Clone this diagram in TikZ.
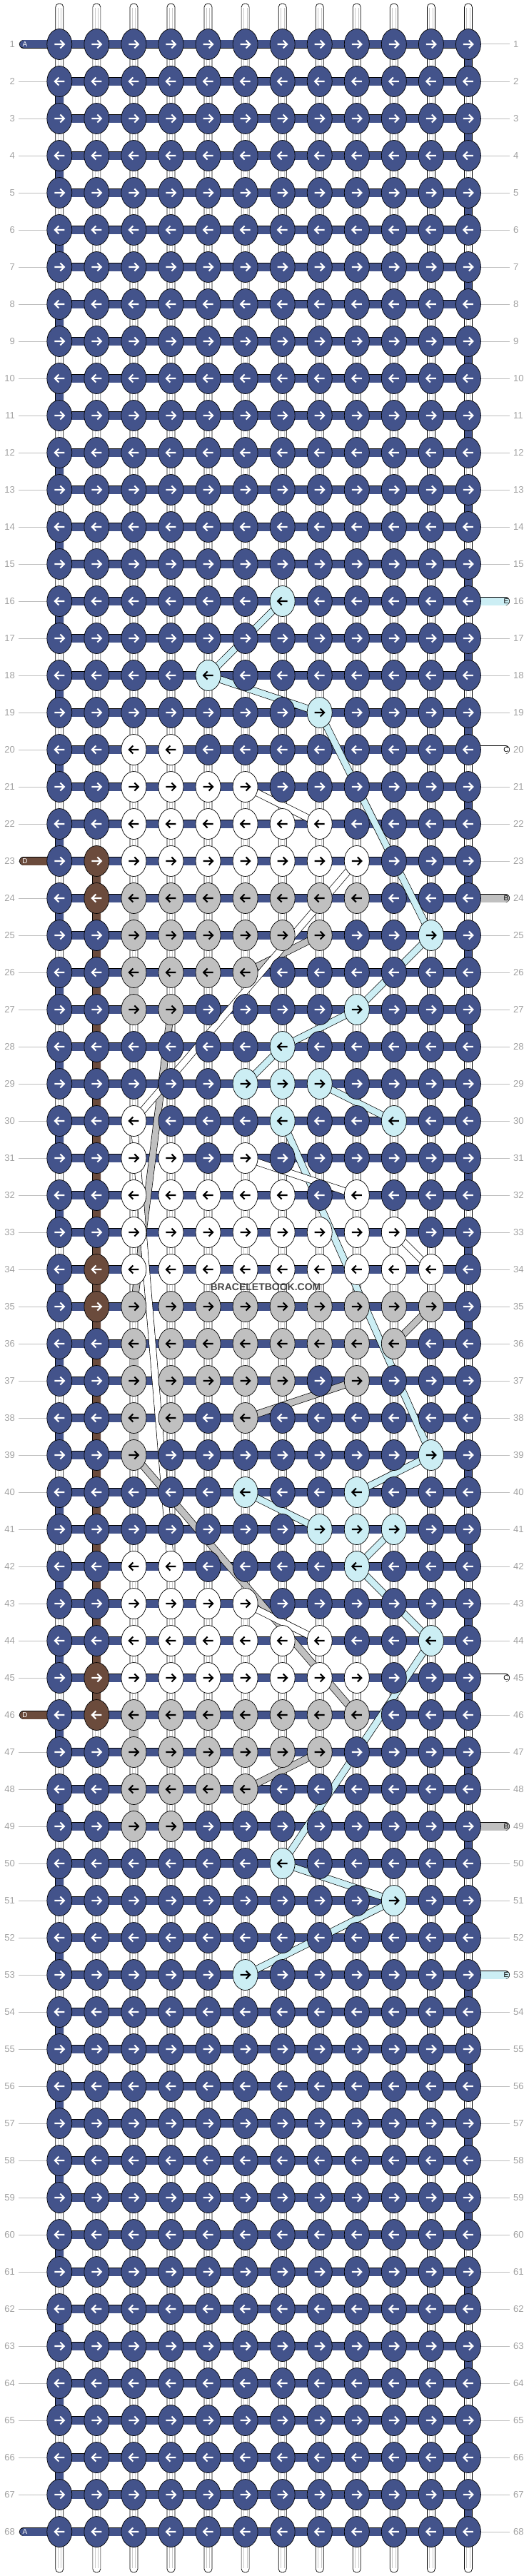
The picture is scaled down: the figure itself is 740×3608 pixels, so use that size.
\documentclass[tikz,border=0pt]{standalone}
\usepackage{fontspec}
\setmainfont{Liberation Sans}
\usetikzlibrary{shapes.geometric}
\definecolor{kblue}{RGB}{67,83,139}
\definecolor{klb}{RGB}{204,238,244}
\definecolor{kgray}{RGB}{192,192,192}
\definecolor{kbrown}{RGB}{107,75,60}
\definecolor{lblgray}{RGB}{160,160,160}
\definecolor{linegray}{RGB}{190,190,190}
\definecolor{stripegray}{RGB}{200,200,200}
\definecolor{wmgray}{RGB}{70,70,70}
\pgfdeclarelayer{bgl}
\pgfdeclarelayer{midl}
\pgfsetlayers{bgl,midl,main}
\def\mysetk#1#2#3{\expandafter\xdef\csname kc@#1@#2\endcsname{#3}}
\def\mysetrange#1#2#3#4{\foreach \kcc in {#2,...,#3}{\mysetk{#1}{\kcc}{#4}}}
\mysetk{16}{7}{lb}
\mysetk{18}{5}{lb}
\mysetk{19}{8}{lb}
\mysetrange{20}{3}{4}{wh}
\mysetrange{21}{3}{6}{wh}
\mysetrange{22}{3}{8}{wh}
\mysetk{23}{2}{br}\mysetrange{23}{3}{9}{wh}
\mysetk{24}{2}{br}\mysetrange{24}{3}{9}{gr}
\mysetrange{25}{3}{8}{gr}\mysetk{25}{11}{lb}
\mysetrange{26}{3}{6}{gr}
\mysetrange{27}{3}{4}{gr}\mysetk{27}{9}{lb}
\mysetk{28}{7}{lb}
\mysetrange{29}{6}{8}{lb}
\mysetk{30}{3}{wh}\mysetk{30}{7}{lb}\mysetk{30}{10}{lb}
\mysetrange{31}{3}{4}{wh}\mysetk{31}{6}{wh}
\mysetrange{32}{3}{7}{wh}\mysetk{32}{9}{wh}
\mysetrange{33}{3}{10}{wh}
\mysetk{34}{2}{br}\mysetrange{34}{3}{11}{wh}
\mysetk{35}{2}{br}\mysetrange{35}{3}{11}{gr}
\mysetrange{36}{3}{10}{gr}
\mysetrange{37}{3}{7}{gr}\mysetk{37}{9}{gr}
\mysetrange{38}{3}{4}{gr}\mysetk{38}{6}{gr}
\mysetk{39}{3}{gr}\mysetk{39}{11}{lb}
\mysetk{40}{6}{lb}\mysetk{40}{9}{lb}
\mysetrange{41}{8}{10}{lb}
\mysetrange{42}{3}{4}{wh}\mysetk{42}{9}{lb}
\mysetrange{43}{3}{6}{wh}
\mysetrange{44}{3}{8}{wh}\mysetk{44}{11}{lb}
\mysetk{45}{2}{br}\mysetrange{45}{3}{9}{wh}
\mysetk{46}{2}{br}\mysetrange{46}{3}{9}{gr}
\mysetrange{47}{3}{8}{gr}
\mysetrange{48}{3}{6}{gr}
\mysetrange{49}{3}{4}{gr}
\mysetk{50}{7}{lb}
\mysetk{51}{10}{lb}
\mysetk{53}{6}{lb}
\begin{document}
\begin{tikzpicture}[x=1pt,y=-1pt,
  knot/.style={ellipse, draw=black, line width=0.7pt, minimum width=35pt, minimum height=43pt, inner sep=0pt},
  knot-bl/.style={knot, fill=kblue},
  knot-lb/.style={knot, fill=klb},
  knot-wh/.style={knot, fill=white},
  knot-gr/.style={knot, fill=kgray},
  knot-br/.style={knot, fill=kbrown},
  arr-bl/.style={draw=white}, arr-br/.style={draw=white},
  arr-lb/.style={draw=black}, arr-wh/.style={draw=black}, arr-gr/.style={draw=black},
  arrowglyph/.style={line width=2.1pt, line join=miter},
  rowlabel/.style={text=lblgray, font=\fontsize{13}{13}\selectfont, inner sep=0pt},
  lblline/.style={draw=linegray, line width=1pt},
  band/.style={draw=black, line width=0.7pt, double=#1, double distance=10.4pt},
  rowbar/.style={draw=black, line width=0.7pt, double=kblue, double distance=11pt},
  tail/.style={draw=black, line width=0.7pt, double=#1, double distance=11pt, line cap=round},
  strand/.style={draw=black, line width=0.7pt, double=#1, double distance=8.6pt},
  taillbl/.style={font=\fontsize{10}{10}\selectfont, inner sep=0pt},
]
\useasboundingbox (0,0) rectangle (740,3608);
% knots
\foreach \ri in {1,...,68}{
  \foreach \ci in {1,...,12}{
    \pgfmathsetmacro\xx{83.3+52.06*(\ci-1)}
    \pgfmathsetmacro\yy{62+52*(\ri-1)}
    \edef\kcol{\ifcsname kc@\ri@\ci\endcsname\csname kc@\ri@\ci\endcsname\else bl\fi}
    \node[knot-\kcol] (k-\ri-\ci) at (\xx,\yy) {};
    \ifodd\ri\relax\def\dir{1}\else\def\dir{-1}\fi
    \draw[arrowglyph, arr-\kcol, shift={(\xx,\yy)}, xscale=\dir] (-7,0) -- (6,0) (1,-5.5) -- (6.5,0) -- (1,5.5);
  }
}
% column string ends
\foreach \ci in {1,...,12}{
  \pgfmathsetmacro\xx{83.3+52.06*(\ci-1)}
  \coordinate (t-\ci) at (\xx,5);
  \coordinate (b-\ci) at (\xx,3603);
}
% row label coordinates and labels
\foreach \ri in {1,...,68}{
  \pgfmathsetmacro\yy{62+52*(\ri-1)}
  \coordinate (ll-\ri) at (26,\yy);
  \coordinate (rl-\ri) at (714,\yy);
  \node[rowlabel, anchor=east] (nl-\ri) at (21,\yy) {\ri};
  \node[rowlabel, anchor=west] (nr-\ri) at (719,\yy) {\ri};
}
\begin{pgfonlayer}{bgl}
  \foreach \ci in {1,...,12}{
    \draw[fill=white, draw=black, line width=0.7pt, rounded corners=5pt] ([xshift=-5.5pt]t-\ci) rectangle ([xshift=5.5pt]b-\ci);
    \draw[draw=stripegray, line width=0.6pt] ([xshift=-2.2pt,yshift=-6pt]t-\ci) -- ([xshift=-2.2pt,yshift=6pt]b-\ci);
    \draw[draw=stripegray, line width=0.6pt] ([xshift=2.2pt,yshift=-6pt]t-\ci) -- ([xshift=2.2pt,yshift=6pt]b-\ci);
  }
  \foreach \ri in {1,...,68}{
    \draw[lblline] (ll-\ri) -- (k-\ri-1.center);
    \draw[lblline] (k-\ri-12.center) -- (rl-\ri);
  }
\end{pgfonlayer}
\begin{pgfonlayer}{midl}
  % working string turning at the row ends
  \foreach \ri in {1,...,67}{
    \pgfmathtruncatemacro\rn{\ri+1}
    \ifodd\ri\relax\def\ec{12}\else\def\ec{1}\fi
    \draw[band=kblue] (k-\ri-\ec.center) -- (k-\rn-\ec.center);
  }
  \foreach \ri in {23,...,45}{
    \pgfmathtruncatemacro\rn{\ri+1}
    \draw[band=kbrown] (k-\ri-2.center) -- (k-\rn-2.center);
  }
  \foreach \ri in {24,26,36,38,46,48}{
    \pgfmathtruncatemacro\rn{\ri+1}
    \draw[band=kgray] (k-\ri-3.center) -- (k-\rn-3.center);
  }
  % row bars
  \foreach \ri in {1,...,68}{
    \draw[rowbar] (k-\ri-1.center) -- (k-\ri-12.center);
  }
  % side tails
  \foreach \ri/\cl/\tc/\lt in {1/kblue/white/A, 23/kbrown/white/D, 46/kbrown/white/D, 68/kblue/white/A}{
    \coordinate (lt-\ri) at (33.2,62+52*\ri-52);
    \draw[tail=\cl] (lt-\ri) -- (k-\ri-1.center);
    \node[taillbl, text=\tc] (ltl-\ri) at (35,62+52*\ri-52) {\lt};
  }
  \foreach \ri/\cl/\tc/\lt in {16/klb/black/E, 20/white/black/C, 24/kgray/black/B, 45/white/black/C, 49/kgray/black/B, 53/klb/black/E}{
    \coordinate (rt-\ri) at (707.8,62+52*\ri-52);
    \draw[tail=\cl] (k-\ri-12.center) -- (rt-\ri);
    \node[taillbl, text=\tc] (rtl-\ri) at (709,62+52*\ri-52) {\lt};
  }
  % light blue string
  \foreach \a/\b/\c/\d in {16/7/18/5, 18/5/19/8, 19/8/25/11, 25/11/27/9, 27/9/28/7, 28/7/29/6, 29/8/30/10, 30/7/39/11, 39/11/40/9, 40/6/41/8, 41/10/42/9, 42/9/44/11, 44/11/50/7, 50/7/51/10, 51/10/53/6}{
    \draw[strand=klb] (k-\a-\b.center) -- (k-\c-\d.center);
  }
  % gray string
  \foreach \a/\b/\c/\d in {25/8/26/6, 27/4/35/3, 35/11/36/10, 37/9/38/6, 39/3/46/9, 47/8/48/6}{
    \draw[strand=kgray] (k-\a-\b.center) -- (k-\c-\d.center);
  }
  % white string
  \foreach \a/\b/\c/\d in {21/6/22/8, 23/9/30/3, 31/6/32/9, 33/10/34/11, 30/3/42/4, 43/6/44/8}{
    \draw[strand=white] (k-\a-\b.center) -- (k-\c-\d.center);
  }
\end{pgfonlayer}
\node[font=\bfseries\fontsize{14}{14}\selectfont, text=wmgray, inner sep=0pt] (wm) at (372,1803) {BRACELETBOOK.COM};
\end{tikzpicture}
\end{document}
